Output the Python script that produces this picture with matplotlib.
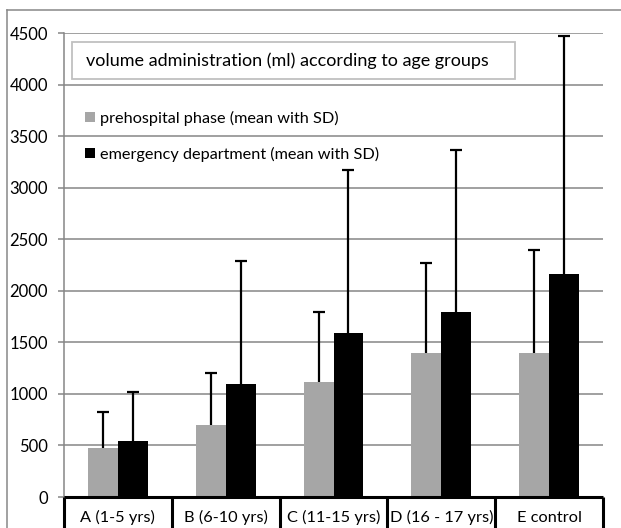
import matplotlib
matplotlib.use("Agg")
import matplotlib.pyplot as plt
from matplotlib.patches import Rectangle
from matplotlib.lines import Line2D

plt.rcParams['font.family'] = ['Lato', 'DejaVu Sans']

groups = ["A (1-5 yrs)", "B (6-10 yrs)", "C (11-15 yrs)", "D (16 - 17 yrs)", "E control"]
prehosp_mean = [480, 700, 1115, 1400, 1400]
prehosp_sd = [340, 500, 680, 865, 995]
ed_mean = [545, 1100, 1590, 1790, 2160]
ed_sd = [475, 1185, 1580, 1575, 2310]
yticks = [0, 500, 1000, 1500, 2000, 2500, 3000, 3500, 4000, 4500]

title = "volume administration (ml) according to age groups"
lab_pre = "prehospital phase (mean with SD)"
lab_ed = "emergency department (mean with SD)"

fig = plt.figure(figsize=(6.21, 5.28), dpi=100)
ax = fig.add_axes([64/621, 1-497/528, 539/621, 464/528])

x = list(range(len(groups)))
w = 0.278
err_kw = dict(elinewidth=1.6, capsize=4.5, capthick=1.6, ecolor="black")
b1 = ax.bar([i - w/2 for i in x], prehosp_mean, w, color="#a6a6a6", label=lab_pre,
            yerr=[[0]*5, prehosp_sd], error_kw=err_kw, zorder=3)
b2 = ax.bar([i + w/2 for i in x], ed_mean, w, color="black", label=lab_ed,
            yerr=[[0]*5, ed_sd], error_kw=err_kw, zorder=3)
# only the upper cap, like the original
for b in (b1, b2):
    b.errorbar.lines[1][0].set_visible(False)

ax.set_xlim(-0.5, 4.5)
ax.set_ylim(0, 4500)
ax.set_yticks(yticks)
ax.set_yticklabels([str(v) for v in yticks], fontsize=12)
ax.tick_params(axis="y", length=4.5, width=1.1, color="#868686", pad=7)
ax.set_xticks([])
ax.grid(axis="y", color="#868686", lw=1.1, zorder=0)
ax.set_axisbelow(True)
for s in ["top", "right", "bottom"]:
    ax.spines[s].set_visible(False)
ax.spines["left"].set_color("#868686")
ax.spines["left"].set_linewidth(1.1)

# category boxes under the axis
ax.hlines(0, -0.5, 4.5, color="black", lw=2.2, clip_on=False, zorder=5)
ax.vlines([i - 0.5 for i in range(len(groups) + 1)], -600, 0, color="black",
          lw=2.2, clip_on=False, zorder=5)
for i, g in enumerate(groups):
    ax.text(i, -0.045, g, transform=ax.get_xaxis_transform(), ha="center",
            va="center", fontsize=11.8)

# title box
ax.add_patch(Rectangle((0.0148, 0.9009), 0.822, 0.0797, transform=ax.transAxes,
                       facecolor="white", edgecolor="#c0c0c0", lw=1.3, zorder=4))
ax.text(0.0408, 0.9397, title, transform=ax.transAxes, va="center",
        fontsize=13, zorder=5)

ax.legend(loc="upper left", bbox_to_anchor=(0.024, 0.85), frameon=False,
          fontsize=11.7, handlelength=0.6, handleheight=0.6,
          handletextpad=0.3, labelspacing=1.3, borderpad=0)

# outer border
fig.add_artist(Line2D([7/621, 1], [1-10/528, 1-10/528], color="#888888", lw=1.1))
fig.add_artist(Line2D([7/621, 7/621], [0, 1-10/528], color="#888888", lw=1.1))

fig.savefig("out.png", dpi=100)
